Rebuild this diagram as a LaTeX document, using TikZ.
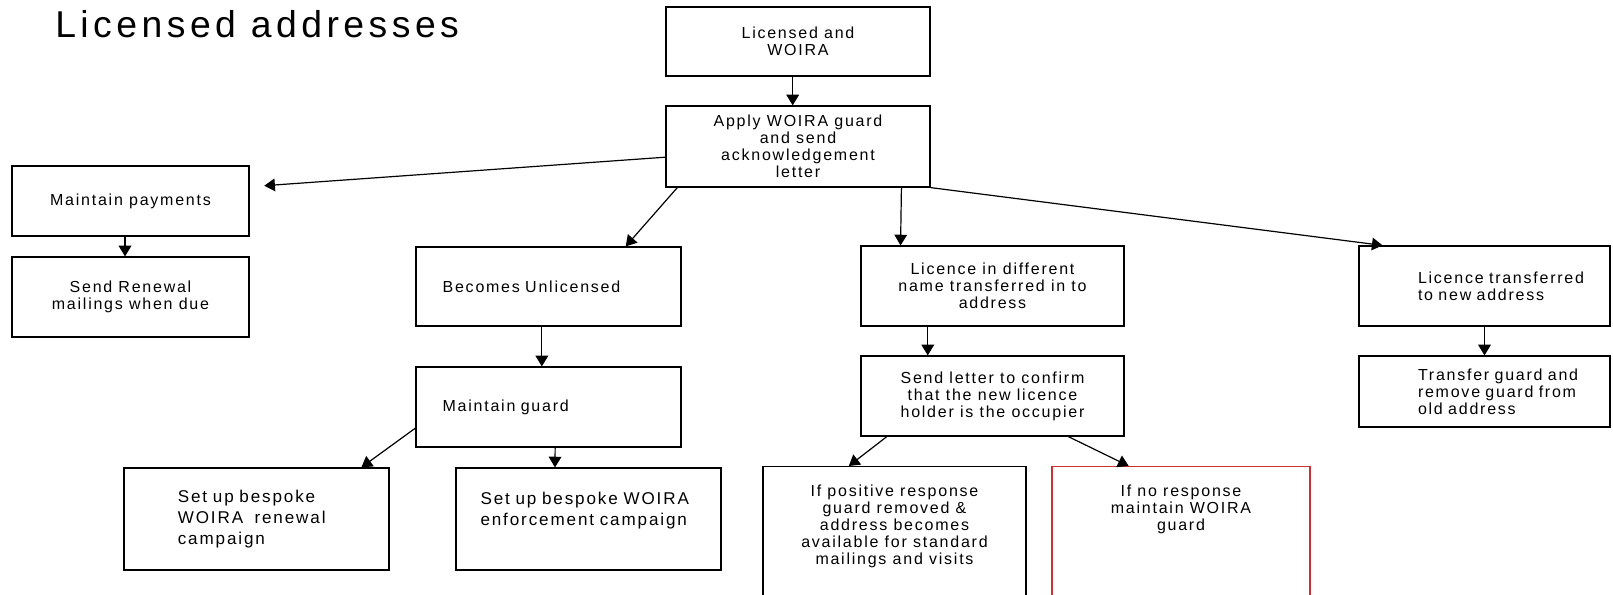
\documentclass[tikz,border=0pt]{standalone}
\usepackage{fontspec}
\newfontfamily\bodyfont{Liberation Sans}[LetterSpace=11]
\newfontfamily\titlefont{Liberation Sans}[LetterSpace=12]
\usetikzlibrary{arrows.meta,calc}
\definecolor{boxred}{RGB}{200,50,50}
\begin{document}
\begin{tikzpicture}[x=0.75pt,y=-0.75pt,
  box/.style={draw, line width=0.9pt, rectangle, inner sep=0pt, align=center,
    font=\bodyfont\fontsize{12}{12.75}\selectfont},
  bigtext/.style={font=\bodyfont\fontsize{12.8}{15.75}\selectfont},
  arr/.style={-{Triangle[length=8pt,width=9.5pt]}, line width=0.9pt},
  title/.style={anchor=base west, inner sep=0pt, font=\titlefont\fontsize{28}{32}\selectfont}]
\clip (0,0) rectangle (1613,595);
\fill[white] (0,0) rectangle (1613,595);

\node[title] (T) at (55,38) {Licensed addresses};

\node[box, minimum width=198pt, minimum height=51.75pt] (A) at (798,41.5) {Licensed and\\WOIRA};
\node[box, minimum width=198pt, minimum height=60.75pt] (B) at (798,146.5) {Apply WOIRA guard\\and send\\acknowledgement\\letter};

\node[box, minimum width=177.75pt, minimum height=52.5pt] (MP) at (130.5,201) {Maintain payments};
\node[box, minimum width=177.75pt, minimum height=60pt] (SR) at (130.5,297) {Send Renewal\\mailings when due};

\node[box, align=left, text width=158.75pt, inner xsep=20pt, minimum width=198.75pt, minimum height=59.25pt] (BU) at (548.5,286.5) {Becomes Unlicensed};
\node[box, align=left, text width=158.75pt, inner xsep=20pt, minimum width=198.75pt, minimum height=60pt] (MG) at (548.5,407) {Maintain guard};

\node[box, bigtext, align=left, text width=118pt, inner xsep=40.375pt, minimum width=198.75pt, minimum height=76.5pt] (RC) at (256.5,519) {Set up bespoke\\WOIRA\ \ renewal\\campaign};
\node[box, bigtext, align=left, text width=162pt, inner xsep=18.375pt, minimum width=198.75pt, minimum height=76.5pt] (EC) at (588.5,519) {Set up bespoke WOIRA\\enforcement campaign\\\mbox{}};

\node[box, minimum width=197.25pt, minimum height=60pt] (LD) at (992.5,286) {Licence in different\\name transferred in to\\address};
\node[box, minimum width=197.25pt, minimum height=60pt] (SL) at (992.5,396) {Send letter to confirm\\that the new licence\\holder is the occupier};

\node[box, anchor=north, minimum width=197.25pt, inner ysep=14pt] (PR) at (894.5,466) {If positive response\\guard removed \&\\address becomes\\available for standard\\mailings and visits\\[60pt]\mbox{}};
\node[box, draw=boxred, line width=0.8pt, anchor=north, minimum width=193.5pt, inner ysep=14pt] (NR) at (1181,466) {If no response\\maintain WOIRA\\guard\\[110pt]\mbox{}};

\node[box, align=left, text width=173.25pt, inner xsep=7.5pt, minimum width=188.25pt, minimum height=60pt] (LT) at (1484.5,286) {\hspace*{36.75pt}Licence transferred\\\hspace*{36.75pt}to new address};
\node[box, align=left, text width=173.25pt, inner xsep=7.5pt, minimum width=188.25pt, minimum height=53.25pt] (TG) at (1484.5,391.5) {\hspace*{36.75pt}Transfer guard and\\\hspace*{36.75pt}remove guard from\\\hspace*{36.75pt}old address};

% connectors
\draw[arr] ($(A.south west)!0.48!(A.south east)$) -- ($(B.north west)!0.48!(B.north east)$);
\draw[arr, shorten >=11pt] ($(B.north west)!0.63!(B.south west)$) -- ($(MP.north east)!0.3!(MP.south east)$);
\draw[arr] ($(B.south west)!0.045!(B.south east)$) -- ($(BU.north west)!0.79!(BU.north east)$);
\draw[arr] ($(B.south west)!0.89!(B.south east)$) -- ($(LD.north west)!0.152!(LD.north east)$);
\draw[arr] (B.south east) -- ($(LT.north west)!0.096!(LT.north east)$);
\draw[arr] ($(MP.south west)!0.477!(MP.south east)$) -- ($(SR.north west)!0.477!(SR.north east)$);
\draw[arr] ($(BU.south west)!0.475!(BU.south east)$) -- ($(MG.north west)!0.475!(MG.north east)$);
\draw[arr] ($(MG.north west)!0.76!(MG.south west)$) -- ($(RC.north west)!0.894!(RC.north east)$);
\draw[arr] ($(MG.south west)!0.525!(MG.south east)$) -- ($(EC.north west)!0.374!(EC.north east)$);
\draw[arr] ($(LD.south west)!0.255!(LD.south east)$) -- ($(SL.north west)!0.255!(SL.north east)$);
\draw[arr] ($(SL.south west)!0.1!(SL.south east)$) -- ($(PR.north west)!0.327!(PR.north east)$);
\draw[arr] ($(SL.south west)!0.787!(SL.south east)$) -- ($(NR.north west)!0.298!(NR.north east)$);
\draw[arr] (LT.south) -- (TG.north);
\end{tikzpicture}
\end{document}
